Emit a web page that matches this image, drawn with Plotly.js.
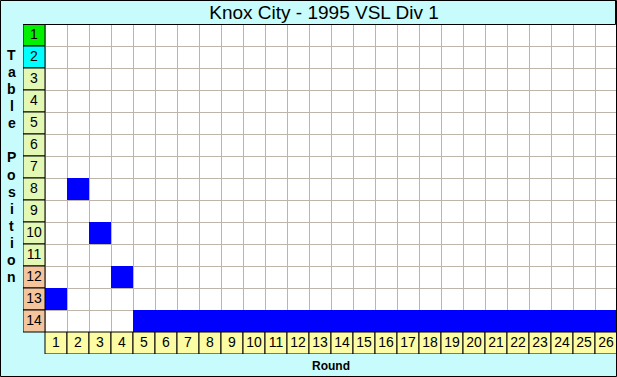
<!DOCTYPE html>
<html><head><meta charset="utf-8">
<script src="https://cdn.plot.ly/plotly-3.0.1.min.js"></script>
<style>html,body{margin:0;padding:0;overflow:hidden;background:#c8fcfc}</style>
</head><body><div id="chart" style="width:617px;height:377px"></div>
<script>
// ---- data ----
const chartTitle = 'Knox City - 1995 VSL Div 1';
const yTitle = 'Table Position';
const xTitle = 'Round';
const rounds = [1,2,3,4,5,6,7,8,9,10,11,12,13,14,15,16,17,18,19,20,21,22,23,24,25,26];
const teamPosition = [13,8,10,12,14,14,14,14,14,14,14,14,14,14,14,14,14,14,14,14,14,14,14,14,14,14];
const tablePositions = [1,2,3,4,5,6,7,8,9,10,11,12,13,14];
const positionColors = ['#00f000','#00ffff','#e2f8b4','#e2f8b4','#e2f8b4','#e2f8b4','#e2f8b4','#e2f8b4','#e2f8b4','#e2f8b4','#e2f8b4','#f4c49c','#f4c49c','#f4c49c'];
const roundColor = '#fcfca4';
const markColor = '#0000ff';

// ---- geometry ----
const W = 617, H = 377, L = 23, T = 24, B = 23;
const PW = W - L, PH = H - T - B;
const ROUND_ROW = tablePositions.length + 1;
const px = x => (x - L) / PW;        // figure px -> paper x
const py = y => (H - B - y) / PH;    // figure px -> paper y
const font = 'Arial, "Liberation Sans", sans-serif';
const cellFont = '"Liberation Sans Narrow", "Arial Narrow", Arial, sans-serif';

const traces = [
  { // team position per round
    type: 'bar', x: rounds, y: rounds.map(() => 1), base: teamPosition.map(p => p - 0.5),
    width: 1, marker: { color: markColor, line: { width: 0 } }, hoverinfo: 'skip'
  },
  { // table position label cells
    type: 'bar', x: tablePositions.map(() => 0), y: tablePositions.map(() => 1),
    base: tablePositions.map(p => p - 0.5), width: 1,
    marker: { color: positionColors, line: { color: '#000', width: 1 } }, hoverinfo: 'skip'
  },
  { // round label cells
    type: 'bar', x: rounds, y: rounds.map(() => 1), base: rounds.map(() => ROUND_ROW - 0.5), width: 1,
    marker: { color: roundColor, line: { color: '#000', width: 1 } }, hoverinfo: 'skip'
  },
  {
    type: 'scatter', mode: 'text', x: tablePositions.map(() => 0), y: tablePositions,
    text: tablePositions.map(String), textfont: { family: cellFont, size: 14, color: '#000' }, hoverinfo: 'skip'
  },
  {
    type: 'scatter', mode: 'text', x: rounds, y: rounds.map(() => ROUND_ROW),
    text: rounds.map(String), textfont: { family: cellFont, size: 14, color: '#000' }, hoverinfo: 'skip'
  }
];

const yLetters = yTitle.split('').map((ch, i) => ({
  text: '<b>' + (ch === ' ' ? '&nbsp;' : ch) + '</b>', xref: 'paper', yref: 'paper',
  x: px(11.5), y: py(55 + i * 17.08), showarrow: false,
  font: { family: font, size: 14, color: '#000' }, xanchor: 'center', yanchor: 'middle'
}));

const layout = {
  width: W, height: H,
  margin: { l: L, r: 0, t: T, b: B, pad: 0 },
  paper_bgcolor: '#c8fcfc', plot_bgcolor: '#c8fcfc',
  showlegend: false, hovermode: false, barmode: 'overlay',
  title: { text: chartTitle, font: { family: font, size: 19, color: '#000' },
           xref: 'container', x: 324 / W, xanchor: 'center', yref: 'container', y: 1 - 12.5 / H, yanchor: 'middle' },
  xaxis: { range: [-0.5, rounds.length + 0.5], tickvals: rounds.map(r => r - 0.5), showticklabels: false,
           ticks: '', showgrid: true, gridcolor: '#bdb5a9', gridwidth: 1, zeroline: false, showline: false, fixedrange: true },
  yaxis: { range: [ROUND_ROW + 0.5, 0.5], tickvals: tablePositions.map(p => p - 0.5), showticklabels: false,
           ticks: '', showgrid: true, gridcolor: '#bdb5a9', gridwidth: 1, zeroline: false, showline: false, fixedrange: true },
  shapes: [
    { type: 'rect', layer: 'below', xref: 'x', yref: 'y', x0: 0.5, x1: rounds.length + 0.5, y0: 0.5, y1: ROUND_ROW - 0.5,
      fillcolor: '#ffffff', line: { width: 0 } },
    { type: 'rect', layer: 'above', xref: 'paper', yref: 'paper', x0: px(0.5), x1: px(616.5), y0: py(376.5), y1: py(0.5),
      line: { color: '#000', width: 1 } },
    { type: 'line', layer: 'above', xref: 'paper', yref: 'paper', x0: px(23), x1: px(615.5), y0: py(24.5), y1: py(24.5),
      line: { color: '#000', width: 1 } },
    { type: 'line', layer: 'above', xref: 'paper', yref: 'paper', x0: px(615.5), x1: px(615.5), y0: py(0.5), y1: py(24.5),
      line: { color: '#000', width: 1 } }
  ],
  annotations: [
    { text: '<b>' + xTitle + '</b>', xref: 'paper', yref: 'paper', x: px(331), y: py(365.5), showarrow: false,
      font: { family: font, size: 12, color: '#000' }, xanchor: 'center', yanchor: 'middle' }
  ].concat(yLetters)
};

Plotly.newPlot('chart', traces, layout, { staticPlot: true, displayModeBar: false });
</script></body></html>
